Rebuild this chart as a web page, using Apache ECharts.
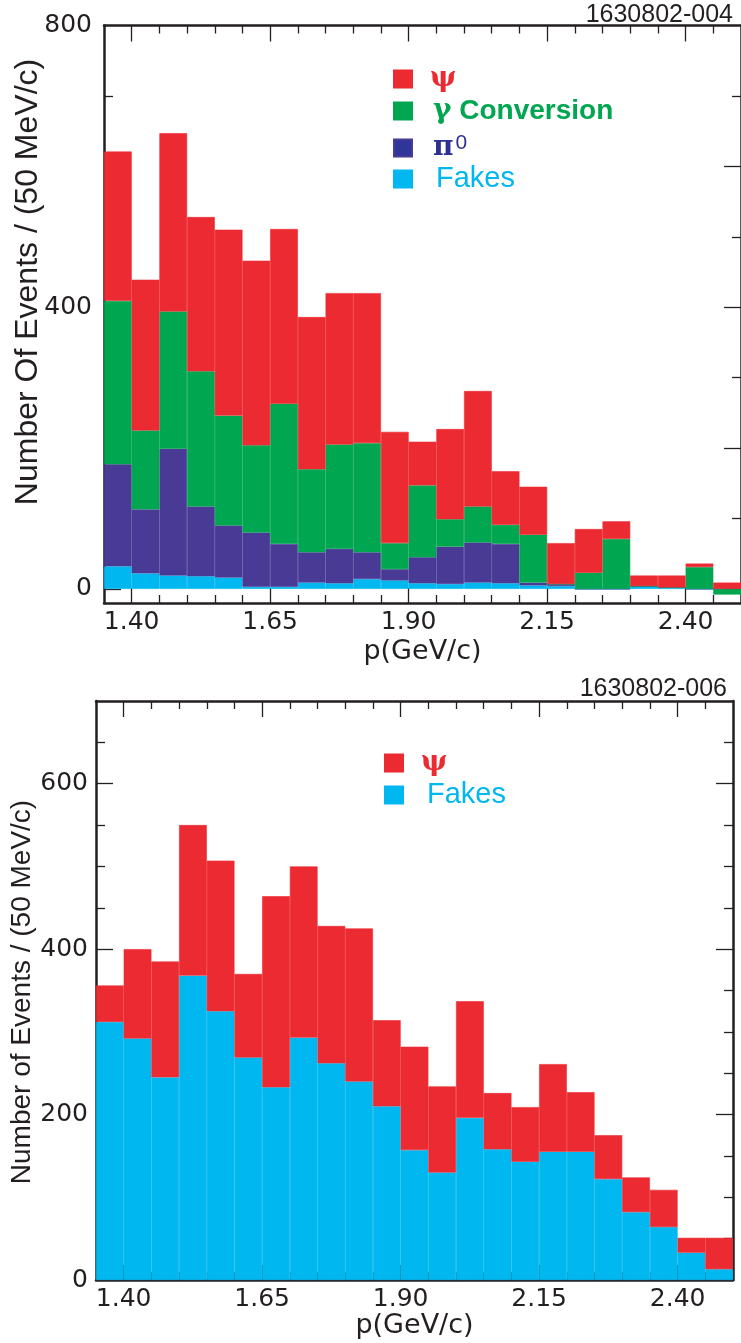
<!DOCTYPE html>
<html>
<head>
<meta charset="utf-8">
<title>p spectra</title>
<script src="https://cdn.jsdelivr.net/npm/echarts@6/dist/echarts.min.js"></script>
<style>
  html, body { margin: 0; padding: 0; background: #fff; }
  #chart { width: 741px; height: 1343px; }
</style>
</head>
<body>
<div id="chart"></div>
<script>
// bins of 50 MeV/c, lower edges
var binStarts = ['1.35', '1.40', '1.45', '1.50', '1.55', '1.60', '1.65', '1.70', '1.75', '1.80', '1.85', '1.90',
                 '1.95', '2.00', '2.05', '2.10', '2.15', '2.20', '2.25', '2.30', '2.35', '2.40', '2.45'];

// upper panel (1630802-004), per-component counts
var topFakes = [32, 22, 19, 18, 16, 3, 3, 9, 8, 14, 12, 8, 7, 9, 8, 5, 4, 0, 0, 4, 2, 0, 0];
var topPi0 = [145, 91, 180, 99, 74, 77, 61, 43, 49, 38, 16, 37, 53, 57, 56, 4, 3, 0, 0, 0, 0, 0, 0];
var topGamma = [232, 112, 195, 192, 156, 124, 199, 118, 148, 155, 37, 102, 39, 51, 27, 68, 0, 23, 71, 0, 0, 31, -8];
var topPsi = [212, 214, 253, 219, 264, 262, 248, 216, 215, 213, 158, 62, 128, 164, 76, 68, 58, 62, 25, 15, 17, 5, 9];

// lower panel (1630802-006)
var botFakes = [312, 292, 245, 368, 325, 269, 233, 293, 262, 240, 210, 157, 130, 196, 158, 143, 155, 155, 122, 82, 64, 33, 13];
var botPsi = [44, 108, 140, 182, 182, 101, 231, 207, 166, 185, 104, 125, 104, 141, 68, 66, 106, 72, 53, 42, 45, 18, 38];

// ticks and labels
var xMajor = [1.40, 1.65, 1.90, 2.15, 2.40];
var xMinor = [1.45, 1.50, 1.55, 1.60, 1.70, 1.75, 1.80, 1.85, 1.95, 2.00, 2.05, 2.10, 2.20, 2.25, 2.30, 2.35, 2.45];
var topYLabels = [0, 400, 800];
var topYMajor = [0, 200, 400, 600];
var topYMinor = [100, 300, 500, 700];
var botYLabels = [0, 200, 400, 600];
var botYMajor = [200, 400, 600];
var botYMinor = [50, 100, 150, 250, 300, 350, 450, 500, 550, 650];

var INK = '#231F20';
var RED = '#EC2A31', GREEN = '#00A650', BLUE = '#493A96', CYAN = '#00B7EF';
var SANS = "'Liberation Sans', Arial, sans-serif";
var WIDE = "'DejaVu Sans', sans-serif";
var SERIF = "'DejaVu Serif', serif";

function xAx(grid, pos, ticks, len, extra) {
  var a = {
    type: 'value', gridIndex: grid, position: pos, min: 1.35, max: 2.5,
    axisLine: { show: false, onZero: false },
    axisTick: { show: true, inside: true, length: len, customValues: ticks, lineStyle: { color: INK, width: 1.3 } },
    axisLabel: { show: false },
    splitLine: { show: false }
  };
  return Object.assign(a, extra || {});
}
function yAx(grid, pos, min, max, ticks, len, extra) {
  var a = {
    type: 'value', gridIndex: grid, position: pos, min: min, max: max,
    axisLine: { show: false, onZero: false },
    axisTick: { show: true, inside: true, length: len, customValues: ticks, lineStyle: { color: INK, width: 1.3 } },
    axisLabel: { show: false },
    splitLine: { show: false }
  };
  return Object.assign(a, extra || {});
}
var frameLine = { show: true, onZero: false, lineStyle: { color: INK, width: 2.5 } };
function xLabels() {
  return { show: true, customValues: xMajor, margin: 7, color: INK, fontFamily: WIDE, fontSize: 25,
           formatter: function (v) { return v.toFixed(2); } };
}
function yLabels(vals, margin) {
  return { show: true, customValues: vals, margin: margin, color: INK, fontFamily: WIDE, fontSize: 25 };
}
var xName = { fontFamily: WIDE, fontSize: 27, color: INK };

function catAx(grid) {
  return { type: 'category', gridIndex: grid, data: binStarts, show: false, boundaryGap: true };
}

var xAxes = [
  catAx(0),
  xAx(0, 'bottom', xMinor, 8, { axisLine: frameLine, axisLabel: xLabels(), name: 'p(GeV/c)',
      nameLocation: 'middle', nameGap: 35, nameTextStyle: xName }),
  xAx(0, 'bottom', xMajor, 15),
  xAx(0, 'top', xMinor, 8, { axisLine: frameLine }),
  xAx(0, 'top', xMajor, 16),
  catAx(1),
  xAx(1, 'bottom', xMinor, 8, { axisLine: frameLine, axisLabel: xLabels(), name: 'p(GeV/c)',
      nameLocation: 'middle', nameGap: 30, nameTextStyle: xName }),
  xAx(1, 'bottom', xMajor, 15),
  xAx(1, 'top', xMinor, 8, { axisLine: frameLine }),
  xAx(1, 'top', xMajor, 16)
];

var yAxes = [
  yAx(0, 'left', -20, 800, topYMajor, 17, { axisLine: frameLine, axisLabel: yLabels(topYLabels, 12) }),
  yAx(0, 'left', -20, 800, topYMinor, 9),
  yAx(0, 'right', -20, 800, topYMajor, 17, { axisLine: frameLine }),
  yAx(0, 'right', -20, 800, topYMinor, 9),
  yAx(1, 'left', 0, 700, botYMajor, 17, { axisLine: frameLine, axisLabel: yLabels(botYLabels, 8) }),
  yAx(1, 'left', 0, 700, botYMinor, 9),
  yAx(1, 'right', 0, 700, botYMajor, 17, { axisLine: frameLine }),
  yAx(1, 'right', 0, 700, botYMinor, 9)
];

function bars(name, data, color, xi, yi, stack) {
  return {
    name: name, type: 'bar', data: data, stack: stack,
    xAxisIndex: xi, yAxisIndex: yi,
    barCategoryGap: '0%', barGap: '0%',
    // thin border in the fill colour hides the anti-aliased seams between bins
    itemStyle: { color: color, borderColor: color, borderWidth: 0.6 },
    silent: true
  };
}

var legendText = {
  'ψ': '{pa|}{gk|ψ}',
  'γ Conversion': '{pb|}{gk|γ}{t| Conversion}',
  'π0': '{pb|}{gk|π}{sup|0}',
  'Fakes': '{pc|}{f|Fakes}'
};
function rich(color) {
  return {
    pa: { width: 13 }, pb: { width: 16 }, pc: { width: 19 },
    gk: { fontFamily: SERIF, fontWeight: 'bold', fontSize: 28, color: color, lineHeight: 30 },
    t: { fontFamily: SANS, fontWeight: 'bold', fontSize: 28, color: color, lineHeight: 30 },
    f: { fontFamily: SANS, fontSize: 29, color: color, lineHeight: 30 },
    sup: { fontFamily: SANS, fontSize: 21, color: color, lineHeight: 20, verticalAlign: 'top', padding: [0, 0, 0, 2] }
  };
}
function leg(name, color, iconColor, left, top) {
  return {
    data: [{ name: name, itemStyle: { color: iconColor } }],
    left: left, top: top, orient: 'vertical', padding: 0,
    icon: 'rect', itemWidth: 18, itemHeight: 17, selectedMode: false,
    formatter: function (n) { return legendText[n]; },
    textStyle: { rich: rich(color), lineHeight: 30 }
  };
}

var chart = echarts.init(document.getElementById('chart'), null, { renderer: 'canvas' });
chart.setOption({
  animation: false,
  backgroundColor: '#fff',
  grid: [
    { left: 104, top: 25.5, width: 637, height: 577.5, outerBoundsMode: 'none' },
    { left: 96, top: 701, width: 637, height: 579, outerBoundsMode: 'none' }
  ],
  xAxis: xAxes,
  yAxis: yAxes,
  legend: [
    leg('ψ', RED, RED, 393, 64),
    leg('γ Conversion', GREEN, GREEN, 393, 96),
    leg('π0', '#2E3192', '#30359A', 393, 133),
    leg('Fakes', CYAN, CYAN, 393, 164),
    leg('ψ', RED, RED, 384, 748),
    leg('Fakes', CYAN, CYAN, 384, 780)
  ],
  graphic: [
    { type: 'text', x: 733, y: 15, style: { text: '1630802-004', font: '25px ' + SANS, fill: INK, align: 'right', verticalAlign: 'middle' } },
    { type: 'text', x: 727, y: 689, style: { text: '1630802-006', font: '25px ' + SANS, fill: INK, align: 'right', verticalAlign: 'middle' } },
    { type: 'text', x: 28, y: 282, rotation: Math.PI / 2,
      style: { text: 'Number Of Events / (50 MeV/c)', font: '32px ' + SANS, fill: INK, align: 'center', verticalAlign: 'middle' } },
    { type: 'text', x: 22, y: 992, rotation: Math.PI / 2,
      style: { text: 'Number of Events / (50 MeV/c)', font: '28px ' + SANS, fill: INK, align: 'center', verticalAlign: 'middle' } }
  ],
  series: [
    bars('Fakes', topFakes, CYAN, 0, 0, 'top'),
    bars('π0', topPi0, BLUE, 0, 0, 'top'),
    bars('γ Conversion', topGamma, GREEN, 0, 0, 'top'),
    bars('ψ', topPsi, RED, 0, 0, 'top'),
    bars('Fakes', botFakes, CYAN, 5, 4, 'bot'),
    bars('ψ', botPsi, RED, 5, 4, 'bot')
  ]
});
</script>
</body>
</html>
